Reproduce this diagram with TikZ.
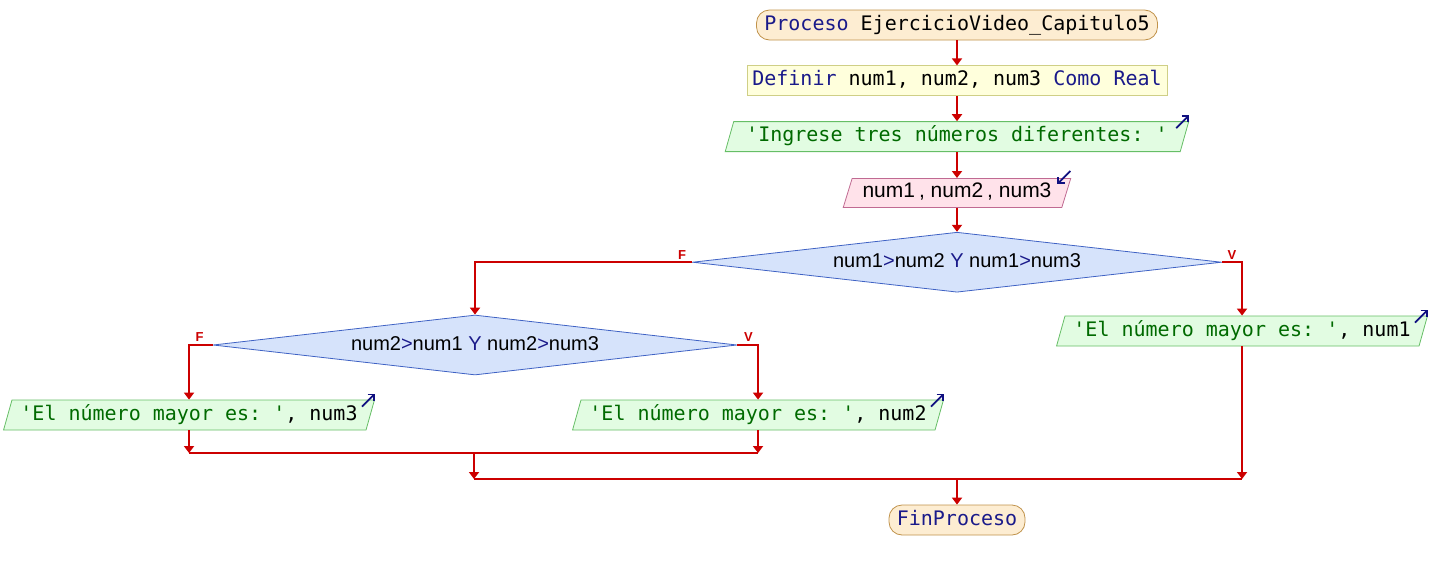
\documentclass[tikz,border=0pt]{standalone}
\usepackage{fontspec}
\setmonofont{DejaVu Sans Mono}
\setsansfont{Liberation Sans}
\usepackage{xcolor}
\usetikzlibrary{arrows.meta}
\usetikzlibrary{positioning, shapes.geometric}

\definecolor{flujo}{HTML}{CC0000}
\definecolor{azul}{HTML}{1A1A8A}
\definecolor{verde}{HTML}{006A00}
\definecolor{icono}{HTML}{101080}
\definecolor{procfondo}{HTML}{FDEDD2}
\definecolor{procborde}{HTML}{C0924A}
\definecolor{deffondo}{HTML}{FFFFDC}
\definecolor{defborde}{HTML}{CFCF86}
\definecolor{salfondo}{HTML}{E2FCE2}
\definecolor{salborde}{HTML}{66BE66}
\definecolor{entfondo}{HTML}{FFE2EA}
\definecolor{entborde}{HTML}{C06A92}
\definecolor{decfondo}{HTML}{D6E3FB}
\definecolor{decborde}{HTML}{3F62C4}

\begin{document}
\begin{tikzpicture}[
    x=1pt, y=-1pt,
    base/.style={
        draw,
        line width=0.8pt,
        inner sep=0pt,
        text height=14pt,
        text depth=4pt,
        minimum height=30pt,
        font=\ttfamily\fontsize{20}{24}\selectfont
    },
    proceso/.style={base, rounded corners=13pt, fill=procfondo, draw=procborde},
    definir/.style={base, fill=deffondo, draw=defborde},
    salida/.style={
        base,
        trapezium,
        trapezium left angle=66,
        trapezium right angle=114,
        trapezium stretches=true,
        minimum width=372pt,
        fill=salfondo,
        draw=salborde
    },
    entrada/.style={salida, fill=entfondo, draw=entborde, font=\sffamily\fontsize{21}{24}\selectfont},
    decision/.style={
        base,
        diamond,
        shape aspect=8.8,
        minimum width=529pt,
        minimum height=60pt,
        fill=decfondo,
        draw=decborde,
        font=\sffamily\fontsize{20}{24}\selectfont
    },
    flecha/.style={draw=flujo, line width=2pt, -{Triangle[length=7pt, width=10pt]}},
    linea/.style={draw=flujo, line width=2pt},
    rotulo/.style={text=flujo, inner sep=0pt, anchor=south, font=\sffamily\bfseries\fontsize{13}{13}\selectfont},
    icon/.style={draw=icono, line width=1.8pt, -{Straight Barb[length=4.5pt, width=9pt]}}
]
\useasboundingbox (0,0) rectangle (1432,570);

% columna principal
\node[proceso, minimum width=401pt] (inicio) at (957,25)
    {\textcolor{azul}{Proceso} EjercicioVideo\_Capitulo5};
\node[definir, minimum width=420pt, below=25pt of inicio] (definir)
    {\textcolor{azul}{Definir} num1, num2, num3 \textcolor{azul}{Como Real}};
\node[salida, minimum width=466pt, below=25pt of definir] (ingrese)
    {\textcolor{verde}{\textquotesingle Ingrese tres números diferentes: \textquotesingle}};
\node[entrada, minimum width=228pt, minimum height=29pt, below=26pt of ingrese] (leer)
    {num1\hspace{4pt}, num2\hspace{4pt}, num3};
\node[decision, below=24pt of leer] (cond1)
    {num1\textcolor{azul}{>}num2 \textcolor{azul}{Y} num1\textcolor{azul}{>}num3};

% ramas
\node[decision, minimum width=524pt] (cond2) at (475,345)
    {num2\textcolor{azul}{>}num1 \textcolor{azul}{Y} num2\textcolor{azul}{>}num3};
\node[salida] (mayor1) at (1242,331)
    {\textcolor{verde}{\textquotesingle El número mayor es: \textquotesingle}, num1};
\node[salida] (mayor3) at (189,415)
    {\textcolor{verde}{\textquotesingle El número mayor es: \textquotesingle}, num3};
\node[salida] (mayor2) at (758,415)
    {\textcolor{verde}{\textquotesingle El número mayor es: \textquotesingle}, num2};
\node[proceso, minimum width=136pt] (fin) at (957,520) {\textcolor{azul}{FinProceso}};

% F / V
\node[rotulo] (f1) at ([xshift=-10pt, yshift=3pt]cond1.west) {F};
\node[rotulo] (v1) at ([xshift=10pt, yshift=3pt]cond1.east) {V};
\node[rotulo] (f2) at ([xshift=-13pt, yshift=3pt]cond2.west) {F};
\node[rotulo] (v2) at ([xshift=11pt, yshift=3pt]cond2.east) {V};

\coordinate (union1) at (474,453);
\coordinate (union2) at (957,479);

\draw[flecha] (inicio.south) -- (definir.north);
\draw[flecha] (definir.south) -- (ingrese.north);
\draw[flecha] (ingrese.south) -- (leer.north);
\draw[flecha] (leer.south) -- (cond1.north);
\draw[flecha] (cond1.west) -| (cond2.north);
\draw[flecha] (cond1.east) -| (mayor1.north);
\draw[flecha] (cond2.west) -| (mayor3.north);
\draw[flecha] (cond2.east) -| (mayor2.north);
\draw[flecha] (mayor3.south) -- (mayor3.south |- union1);
\draw[flecha] (mayor2.south) -- (mayor2.south |- union1);
\draw[linea] (mayor3.south |- union1) -- (mayor2.south |- union1);
\draw[flecha] (union1) -- (union1 |- union2);
\draw[flecha] (mayor1.south) -- (mayor1.south |- union2);
\draw[linea] (union1 |- union2) -- (mayor1.south |- union2);
\draw[flecha] (union2) -- (fin.north);

% iconos de lectura / escritura
\foreach \n in {ingrese, mayor1, mayor2, mayor3}
    \draw[icon] ([shift={(-13pt,-7pt)}]\n.top right corner) -- ++(13pt,13pt);
\draw[icon] ([shift={(-1pt,7pt)}]leer.top right corner) -- ++(-13pt,-13pt);

\end{tikzpicture}
\end{document}
